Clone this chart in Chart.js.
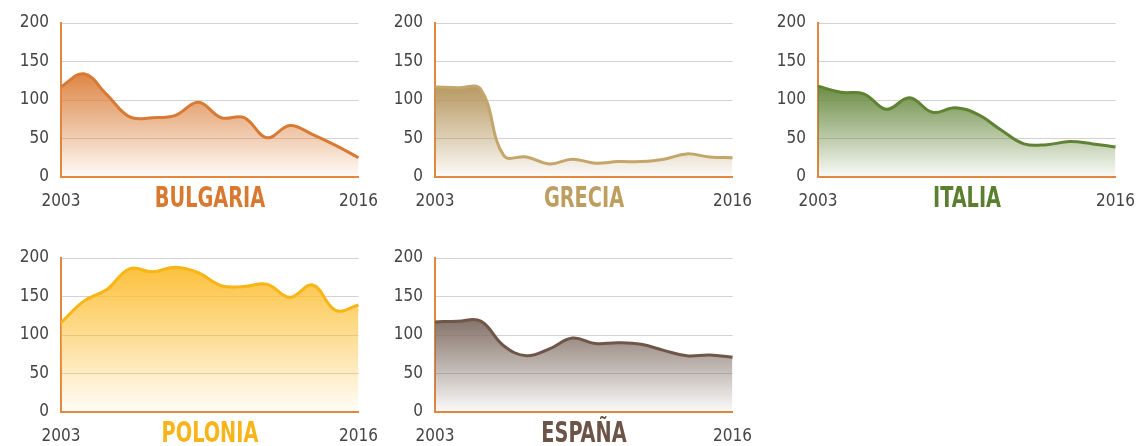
<!DOCTYPE html>
<html>
<head>
<meta charset="utf-8">
<script src="https://cdn.jsdelivr.net/npm/chart.js@4.4.1/dist/chart.umd.min.js"></script>
<style>
    body { margin: 0; background: #fff; width: 1146px; height: 446px; overflow: hidden; position: relative; }
    canvas { position: absolute; }
    .titulo {
        position: absolute; width: 300px; text-align: center;
        font-family: 'DejaVu Sans Condensed', 'Liberation Sans Narrow', sans-serif;
        font-weight: bold; font-size: 29px; line-height: 29px;
        transform: scaleX(0.74); transform-origin: center;
    }
</style>
</head>
<body>
<canvas id="c1" width="392" height="211" style="left:0px;top:0px"></canvas>
<canvas id="c2" width="392" height="211" style="left:374px;top:0px"></canvas>
<canvas id="c3" width="392" height="211" style="left:757px;top:0px"></canvas>
<canvas id="c4" width="392" height="211" style="left:0px;top:235px"></canvas>
<canvas id="c5" width="392" height="211" style="left:374px;top:235px"></canvas>
<div class="titulo" style="left:60px;top:183px;color:#d8792f">BULGARIA</div>
<div class="titulo" style="left:434px;top:183px;color:#bd9e5f">GRECIA</div>
<div class="titulo" style="left:817px;top:183px;color:#5b7f2f">ITALIA</div>
<div class="titulo" style="left:60px;top:418px;color:#f8b418">POLONIA</div>
<div class="titulo" style="left:434px;top:418px;color:#6c5446">ESPAÑA</div>
<script>
// años
var years = ['2003', '2004', '2005', '2006', '2007', '2008', '2009', '2010', '2011', '2012', '2013', '2014', '2015', '2016'];
var yTicks = [0, 50, 100, 150, 200];

// valores por país
var bulgaria = [117, 134, 107, 78, 77, 80, 97, 77, 77, 51, 67, 55, 41, 25];
var grecia = [117, 116, 114, 28, 26, 17, 23, 18, 20, 20, 23, 30, 26, 25];
var italia = [118, 110, 108, 88, 103, 84, 90, 81, 61, 43, 42, 46, 43, 39];
var polonia = [116, 144, 159, 186, 182, 188, 181, 164, 163, 166, 149, 165, 132, 139];
var espana = [117, 118, 118, 86, 73, 82, 96, 89, 90, 88, 80, 73, 74, 71];

var fontFamily = "'DejaVu Sans Condensed', 'Liberation Sans Narrow', sans-serif";
var axisColor = '#e3873f';

function makeChart(id, values, lineColor, rgb) {
    var ctx = document.getElementById(id).getContext('2d');
    var maxVal = Math.max.apply(null, values);
    var config = {
        type: 'line',
        data: {
            labels: years,
            datasets: [{
                data: values,
                borderColor: lineColor,
                borderWidth: 3,
                pointRadius: 0,
                tension: 0.4,
                fill: 'origin',
                backgroundColor: function (context) {
                    var chart = context.chart;
                    var area = chart.chartArea;
                    if (!area) return 'rgba(' + rgb + ',0.5)';
                    // degradado desde el máximo de la serie hasta el eje
                    var top = chart.scales.y.getPixelForValue(maxVal);
                    var g = chart.ctx.createLinearGradient(0, top, 0, area.bottom);
                    g.addColorStop(0, 'rgba(' + rgb + ',0.95)');
                    g.addColorStop(0.5, 'rgba(' + rgb + ',0.5)');
                    g.addColorStop(1, 'rgba(' + rgb + ',0.03)');
                    return g;
                }
            }]
        },
        options: {
            responsive: false,
            animation: false,
            layout: { padding: { top: 23, right: 0, left: 0, bottom: 0 } },
            plugins: {
                legend: { display: false },
                tooltip: { enabled: false }
            },
            scales: {
                x: {
                    afterFit: function (scale) { scale.height = 34; },
                    grid: { display: false, drawTicks: false },
                    border: { color: axisColor, width: 2 },
                    ticks: {
                        autoSkip: false,
                        maxRotation: 0,
                        padding: 14,
                        color: '#444',
                        font: { family: fontFamily, size: 17 },
                        callback: function (val, index) {
                            return (index === 0 || index === years.length - 1) ? years[index] : '';
                        }
                    }
                },
                y: {
                    min: 0,
                    max: 200,
                    z: 1,
                    afterFit: function (scale) { scale.width = 61; },
                    afterBuildTicks: function (scale) {
                        scale.ticks = yTicks.map(function (v) { return { value: v }; });
                    },
                    grid: { color: 'rgba(205,205,205,0.9)', lineWidth: 1, drawTicks: false },
                    border: { color: axisColor, width: 2 },
                    ticks: {
                        padding: 12,
                        color: '#444',
                        font: { family: fontFamily, size: 17 }
                    }
                }
            }
        }
    };
    return new Chart(ctx, config);
}

makeChart('c1', bulgaria, '#d97a34', '220,128,60');
makeChart('c2', grecia, '#c4a56a', '180,148,90');
makeChart('c3', italia, '#5f8333', '100,135,58');
makeChart('c4', polonia, '#f8b516', '252,190,50');
makeChart('c5', espana, '#6f5649', '128,110,100');
</script>
</body>
</html>
